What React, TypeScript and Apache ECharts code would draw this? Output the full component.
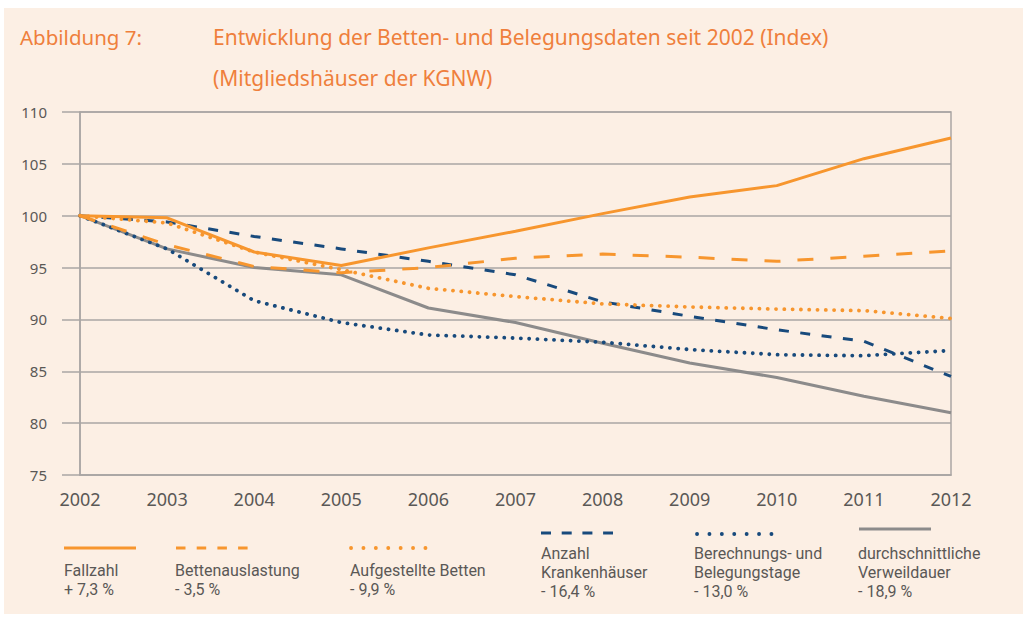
import React, { useEffect, useRef } from "react";
import * as echarts from "echarts";

const years = ["2002", "2003", "2004", "2005", "2006", "2007", "2008", "2009", "2010", "2011", "2012"];
const fallzahl = [100, 99.8, 96.5, 95.2, 96.9, 98.5, 100.2, 101.8, 102.9, 105.5, 107.5];
const bettenauslastung = [100, 97.2, 95.1, 94.5, 95.0, 95.9, 96.3, 96.0, 95.6, 96.1, 96.6];
const aufgestellteBetten = [100, 99.3, 96.5, 94.8, 93.0, 92.2, 91.5, 91.2, 91.0, 90.85, 90.1];
const anzahlKrankenhaeuser = [100, 99.4, 98.0, 96.8, 95.6, 94.3, 91.7, 90.3, 89.0, 87.9, 84.5];
const belegungstage = [100, 96.8, 91.8, 89.7, 88.5, 88.2, 87.8, 87.1, 86.6, 86.5, 87.0];
const verweildauer = [100, 96.8, 95.0, 94.3, 91.1, 89.7, 87.7, 85.8, 84.4, 82.6, 81.0];

const yMin = 75;
const yMax = 110;
const yStep = 5;

const legendNames = [
  "Fallzahl\n+ 7,3 %",
  "Bettenauslastung\n- 3,5 %",
  "Aufgestellte Betten\n- 9,9 %",
  "Anzahl\nKrankenhäuser\n- 16,4 %",
  "Berechnungs- und\nBelegungstage\n- 13,0 %",
  "durchschnittliche\nVerweildauer\n- 18,9 %",
];

const ORANGE = "#f7962e";
const BLUE = "#184a7c";
const GRAY = "#8c8b8b";
const GRID = "#aaa6a4";
const TEXT = "#5a5856";
const TITLE = "#ef7f3c";
const FONT = "'Noto Sans', sans-serif";
const LEGEND_FONT = "Roboto, 'Noto Sans', sans-serif";

export default function App() {
  const ref = useRef<HTMLDivElement>(null);
  useEffect(() => {
    if (!ref.current) return;
    const chart = echarts.init(ref.current, undefined, { renderer: "svg" });
    const dotted = (c: string) => ({ color: c, width: 3.8, type: [0.1, 8.2], cap: "round" as const });
    const legendLine = (x1: number, x2: number, y: number, style: any) => ({
      type: "line",
      shape: { x1, y1: y, x2, y2: y },
      style,
      silent: true,
    });
    const legendText = (x: number, y: number, text: string) => ({
      type: "text",
      x,
      y,
      style: { text, fill: TEXT, font: `16px ${LEGEND_FONT}`, lineHeight: 19, textVerticalAlign: "top" },
      silent: true,
    });
    chart.setOption({
      animation: false,
      textStyle: { fontFamily: FONT },
      title: [
        {
          text: "Abbildung 7:",
          left: 20,
          top: 16,
          padding: 0,
          textStyle: { color: TITLE, fontSize: 20.5, fontWeight: "normal", fontFamily: FONT, lineHeight: 41 },
        },
        {
          text: "Entwicklung der Betten- und Belegungsdaten seit 2002 (Index)\n(Mitgliedshäuser der KGNW)",
          left: 213,
          top: 16,
          padding: 0,
          textStyle: { color: TITLE, fontSize: 21, fontWeight: "normal", fontFamily: FONT, lineHeight: 41 },
        },
      ],
      graphic: [
        {
          type: "rect",
          shape: { x: 4, y: 8, width: 1019, height: 606 },
          style: { fill: "#fcefe4" },
          z: -100,
          silent: true,
        },
        legendLine(64, 136, 548, { stroke: ORANGE, lineWidth: 3 }),
        legendLine(176, 248, 548, { stroke: ORANGE, lineWidth: 3, lineDash: [9.5, 11.2] }),
        legendLine(351, 430, 548, { stroke: ORANGE, lineWidth: 3.8, lineDash: [0.1, 12.3], lineCap: "round" }),
        legendLine(541, 613, 533, { stroke: BLUE, lineWidth: 3, lineDash: [10, 10.7] }),
        legendLine(697, 775, 534, { stroke: BLUE, lineWidth: 3.8, lineDash: [0.1, 12.3], lineCap: "round" }),
        legendLine(859, 931, 529, { stroke: GRAY, lineWidth: 3 }),
        legendText(64, 561, legendNames[0]),
        legendText(175, 561, legendNames[1]),
        legendText(350, 561, legendNames[2]),
        legendText(541, 544, legendNames[3]),
        legendText(694, 544, legendNames[4]),
        legendText(858, 544, legendNames[5]),
      ],
      grid: {
        left: 80,
        right: 72,
        top: 112,
        bottom: 143,
        show: true,
        borderColor: GRID,
        borderWidth: 1.5,
        backgroundColor: "transparent",
      },
      xAxis: {
        type: "category",
        data: years,
        boundaryGap: false,
        axisLine: { show: true, lineStyle: { color: GRID, width: 1.5 } },
        axisTick: { show: false },
        splitLine: { show: false },
        axisLabel: { color: TEXT, fontSize: 18, margin: 15, fontFamily: FONT },
      },
      yAxis: {
        type: "value",
        min: yMin,
        max: yMax,
        interval: yStep,
        axisLine: { show: true, lineStyle: { color: GRID, width: 1.5 } },
        axisTick: { show: true, length: 18, lineStyle: { color: GRID, width: 1.5 } },
        splitLine: { show: true, lineStyle: { color: GRID, width: 1.5 } },
        axisLabel: { color: TEXT, fontSize: 15, margin: 33, fontFamily: FONT },
      },
      series: [
        {
          name: legendNames[5],
          type: "line",
          data: verweildauer,
          symbol: "none",
          lineStyle: { color: GRAY, width: 3 },
        },
        {
          name: legendNames[4],
          type: "line",
          data: belegungstage,
          symbol: "none",
          lineStyle: dotted(BLUE),
        },
        {
          name: legendNames[3],
          type: "line",
          data: anzahlKrankenhaeuser,
          symbol: "none",
          lineStyle: { color: BLUE, width: 3, type: [10, 11.5] },
        },
        {
          name: legendNames[1],
          type: "line",
          data: bettenauslastung,
          symbol: "none",
          lineStyle: { color: ORANGE, width: 3, type: [16, 17] },
        },
        {
          name: legendNames[2],
          type: "line",
          data: aufgestellteBetten,
          symbol: "none",
          lineStyle: dotted(ORANGE),
        },
        {
          name: legendNames[0],
          type: "line",
          data: fallzahl,
          symbol: "none",
          lineStyle: { color: ORANGE, width: 3 },
        },
      ],
    });
    return () => chart.dispose();
  }, []);
  return (
    <div
      ref={ref}
      style={{ position: "fixed", left: 0, top: 0, width: 1023, height: 618, background: "#ffffff" }}
    />
  );
}
